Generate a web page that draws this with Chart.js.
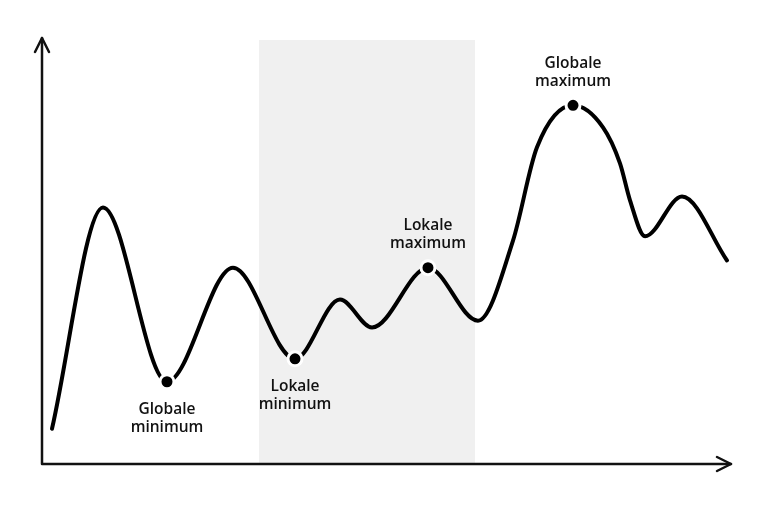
<!DOCTYPE html>
<html>
<head>
<meta charset="utf-8">
<script src="https://cdn.jsdelivr.net/npm/chart.js@4.4.1/dist/chart.umd.min.js"></script>
<style>
  html, body { margin: 0; padding: 0; background: #fff; }
  #wrap { width: 770px; height: 505px; }
</style>
</head>
<body>
<div id="wrap"><canvas id="grafico"></canvas></div>
<script>
// curve (x and y in 0-100 units of the axes)
var curvaX = [1.45, 8.85, 18.14, 27.72, 36.72, 43.25, 47.9, 56.02, 63.28, 68.36, 71.84, 77.07, 81.42, 83.89, 85.34, 87.52, 92.89, 99.42];
var curvaY = [8.3, 60.5, 19.4, 46.3, 24.8, 38.8, 32.2, 46.3, 33.8, 52.7, 74.7, 84.6, 79.4, 70.9, 62.2, 53.7, 63.1, 48.0];

// marked extremes
var pontosX = [18.14, 36.72, 56.02, 77.07];
var pontosY = [19.4, 24.8, 46.3, 84.6];
var rotulos = [['Globale', 'minimum'], ['Lokale', 'minimum'], ['Lokale', 'maximum'], ['Globale', 'maximum']];
var rotuloAbaixo = [true, true, false, false];

// shaded band
var faixaInicio = 31.5;
var faixaFim = 62.85;

var dadosCurva = curvaX.map(function (x, i) { return { x: x, y: curvaY[i] }; });
var dadosPontos = pontosX.map(function (x, i) { return { x: x, y: pontosY[i] }; });

// draws the grey band behind the curve
var faixaPlugin = {
    id: 'faixa',
    beforeDatasetsDraw: function (chart) {
        var ctx = chart.ctx;
        var x = chart.scales.x, y = chart.scales.y;
        var x1 = x.getPixelForValue(faixaInicio);
        var x2 = x.getPixelForValue(faixaFim);
        var topo = y.getPixelForValue(100);
        var base = y.getPixelForValue(0);
        ctx.save();
        ctx.fillStyle = '#f0f0f0';
        ctx.fillRect(x1, topo, x2 - x1, base - topo);
        ctx.restore();
    }
};

// axes with arrow heads
var eixosPlugin = {
    id: 'eixos',
    afterDatasetsDraw: function (chart) {
        var ctx = chart.ctx;
        var x = chart.scales.x, y = chart.scales.y;
        var x0 = x.getPixelForValue(0);
        var y0 = y.getPixelForValue(0);
        var xFim = x.getPixelForValue(100);
        var yFim = y.getPixelForValue(100);
        ctx.save();
        ctx.strokeStyle = '#111';
        ctx.lineWidth = 2.5;
        ctx.lineCap = 'round';
        ctx.lineJoin = 'round';
        ctx.beginPath();
        ctx.moveTo(x0, y0);
        ctx.lineTo(x0, yFim - 2);
        ctx.moveTo(x0, y0);
        ctx.lineTo(xFim, y0);
        ctx.stroke();
        ctx.beginPath();
        ctx.moveTo(x0 - 7, yFim + 12);
        ctx.lineTo(x0, yFim - 2);
        ctx.lineTo(x0 + 7, yFim + 12);
        ctx.moveTo(xFim - 14, y0 - 7);
        ctx.lineTo(xFim, y0);
        ctx.lineTo(xFim - 14, y0 + 7);
        ctx.stroke();
        ctx.restore();
    }
};

// labels next to the marked points
var rotulosPlugin = {
    id: 'rotulos',
    afterDatasetsDraw: function (chart) {
        var ctx = chart.ctx;
        var x = chart.scales.x, y = chart.scales.y;
        ctx.save();
        ctx.fillStyle = '#111';
        ctx.font = '600 15.5px "Open Sans"';
        ctx.textAlign = 'center';
        ctx.textBaseline = 'middle';
        for (var i = 0; i < rotulos.length; i++) {
            var px = x.getPixelForValue(pontosX[i]);
            var py = y.getPixelForValue(pontosY[i]);
            var linhas = rotulos[i];
            var inicio = rotuloAbaixo[i] ? py + 28 : py - 42;
            for (var j = 0; j < linhas.length; j++) {
                ctx.fillText(linhas[j], px, inicio + j * 18);
            }
        }
        ctx.restore();
    }
};

const config = {
    type: 'line',
    data: {
        datasets: [{
            label: 'pontos',
            data: dadosPontos,
            showLine: false,
            pointRadius: 7,
            pointBackgroundColor: '#000',
            pointBorderColor: '#fff',
            pointBorderWidth: 3,
            order: 0
        }, {
            label: 'curva',
            data: dadosCurva,
            borderColor: '#000',
            borderWidth: 4,
            pointRadius: 0,
            fill: false,
            cubicInterpolationMode: 'monotone',
            borderCapStyle: 'round',
            order: 1
        }]
    },
    options: {
        responsive: true,
        maintainAspectRatio: false,
        animation: false,
        layout: { padding: { left: 42, right: 39, top: 40, bottom: 41 } },
        plugins: {
            legend: { display: false },
            tooltip: { enabled: false }
        },
        scales: {
            x: { type: 'linear', min: 0, max: 100, display: false },
            y: { type: 'linear', min: 0, max: 100, display: false }
        }
    },
    plugins: [faixaPlugin, eixosPlugin, rotulosPlugin]
};

new Chart(document.getElementById('grafico'), config);
</script>
</body>
</html>
